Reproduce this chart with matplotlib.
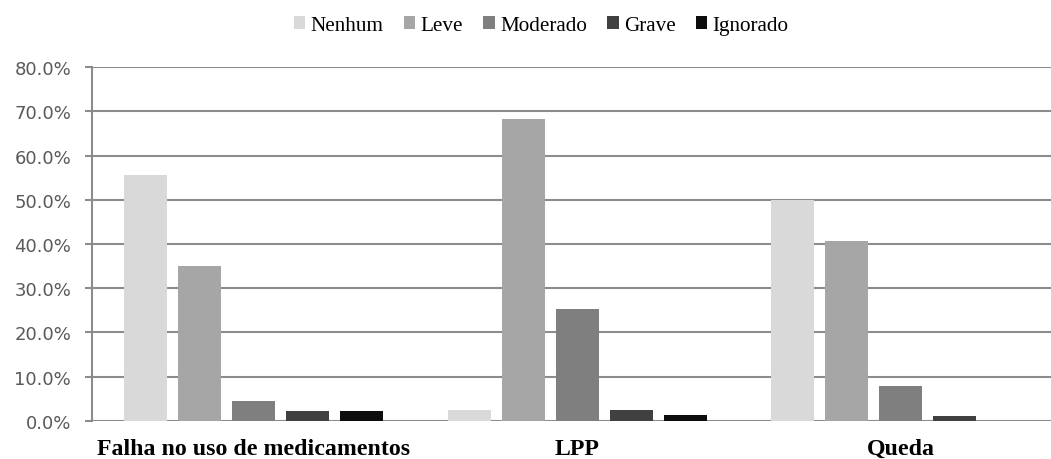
"""
Distribuicao do grau de dano por tipo de incidente (barras agrupadas).
"""
import matplotlib
matplotlib.use("Agg")
import matplotlib.pyplot as plt
import numpy as np
from matplotlib.ticker import FuncFormatter, MultipleLocator

categories = ["Falha no uso de medicamentos", "LPP", "Queda"]
series_names = ["Nenhum", "Leve", "Moderado", "Grave", "Ignorado"]

nenhum = [55.6, 2.4, 50.0]
leve = [35.1, 68.3, 40.7]
moderado = [4.4, 25.3, 7.9]
grave = [2.2, 2.4, 1.1]
ignorado = [2.2, 1.2, 0.0]

colors = ["#d9d9d9", "#a6a6a6", "#7f7f7f", "#404040", "#0d0d0d"]
GRID = "#8c8c8c"


def main():
    fig = plt.figure(figsize=(10.51, 4.6), dpi=100)
    ax = fig.add_axes([92 / 1051, 1 - 421.8 / 460, 1 - 92 / 1051, (421.8 - 68.3) / 460])

    x = np.arange(len(categories))
    step = 0.1669
    width = 0.133
    all_series = [nenhum, leve, moderado, grave, ignorado]
    for i, (name, vals) in enumerate(zip(series_names, all_series)):
        ax.bar(x + (i - 2) * step, vals, width, color=colors[i], label=name,
               zorder=3)

    ax.set_xlim(-0.5, -0.5 + 959 / 323.5)
    ax.set_ylim(0, 80)
    ax.yaxis.set_major_locator(MultipleLocator(10))
    ax.yaxis.set_major_formatter(FuncFormatter(lambda v, _p: f"{v:.1f}%"))
    ax.grid(axis="y", color=GRID, linewidth=1.5, zorder=0)

    for side in ["top", "right", "bottom"]:
        ax.spines[side].set_visible(False)
    ax.spines["left"].set_color(GRID)
    ax.spines["left"].set_linewidth(1.5)

    ax.tick_params(axis="y", direction="out", length=5, width=1.5, color=GRID,
                   labelcolor="#595959", labelsize=13, pad=10)
    for lab in ax.get_yticklabels():
        lab.set_family("DejaVu Sans")

    ax.set_xticks(x)
    ax.set_xticklabels(categories, family="Liberation Serif", weight="bold",
                       fontsize=17.2, color="black")
    ax.tick_params(axis="x", length=0, pad=12.5)

    fig.legend(loc="center", bbox_to_anchor=(0.515, 0.943), ncol=5,
               frameon=False, prop={"family": "Liberation Serif", "size": 15.2},
               handlelength=0.55, handleheight=0.55, handletextpad=0.25,
               columnspacing=0.95)

    fig.savefig("out.png", dpi=100)


if __name__ == "__main__":
    main()
